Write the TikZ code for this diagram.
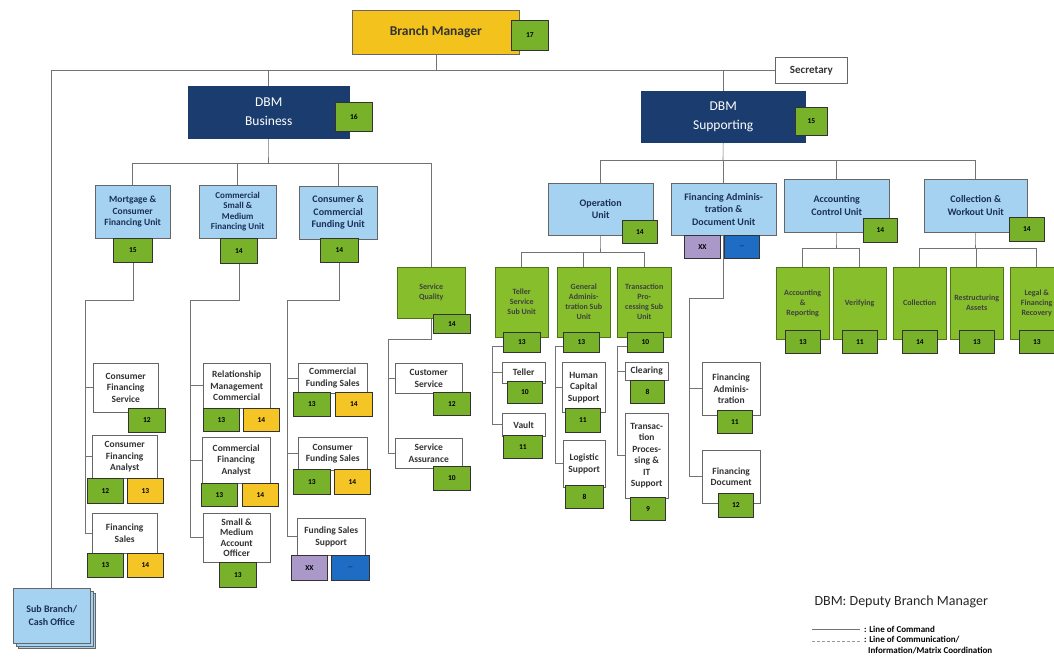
\documentclass[tikz,border=0pt]{standalone}
\usepackage{fontspec}
\setmainfont{Carlito}
\usepackage{tikz}
\usetikzlibrary{shadows,backgrounds}

\definecolor{bmgold}{HTML}{F3C21C}
\definecolor{dbmnavy}{HTML}{1B3C6E}
\definecolor{unitblue}{HTML}{A6D2F1}
\definecolor{navytxt}{HTML}{1A2F5A}
\definecolor{subgreen}{HTML}{86BE2C}
\definecolor{gradegreen}{HTML}{78B12A}
\definecolor{gradegold}{HTML}{F5C526}
\definecolor{xxpurple}{HTML}{A998C8}
\definecolor{dashblue}{HTML}{1F6CC4}

\begin{document}
\begin{tikzpicture}[x=1pt, y=-1pt,
    wh/.style 2 args={minimum width=#1pt, minimum height=#2pt},
    boxe/.style={draw=black!60, anchor=north west, align=center, inner sep=1pt,
      font=\fontsize{9.5}{11.5}\selectfont\bfseries},
    unitbox/.style={boxe, fill=unitblue, text=navytxt},
    jobbox/.style={boxe, fill=white, text=black!80},
    subbox/.style={boxe, fill=subgreen, draw=subgreen!60!black, text=black!75,
      font=\fontsize{8}{10}\selectfont\bfseries},
    gradebox/.style={draw=black!80, line width=0.9pt, anchor=north west, fill=gradegreen,
      inner sep=0pt, font=\fontsize{7.5}{8}\selectfont\bfseries},
    goldbox/.style={gradebox, fill=gradegold},
    xxbox/.style={gradebox, fill=xxpurple},
    dashbox/.style={gradebox, fill=dashblue, text=navytxt},
    cmd/.style={draw=black!55, line width=0.6pt}]
  \useasboundingbox (0,0) rectangle (1054,660);

  % Direction
  \node[boxe, fill=bmgold, line width=0.8pt, wh={167}{44}, text=black!80,
    font=\fontsize{13.5}{15}\selectfont\bfseries] (bm) at (352,10) {Branch Manager};
  \node[gradebox, wh={37}{30}] (bm-g) at (511,20) {17};
  \node[jobbox, wh={72}{26}, line width=0.8pt, font=\fontsize{11}{13}\selectfont\bfseries] (sec) at (775,57) {Secretary};
  \node[boxe, fill=dbmnavy, draw=dbmnavy, text=white, wh={161}{52},
    font=\fontsize{13.5}{19}\selectfont] (dbmb) at (188,86) {DBM\\Business};
  \node[gradebox, wh={37}{29}] (dbmb-g) at (335,102) {16};
  \node[boxe, fill=dbmnavy, draw=dbmnavy, text=white, wh={164}{51},
    font=\fontsize{13.5}{19}\selectfont] (dbms) at (641,91) {DBM\\Supporting};
  \node[gradebox, wh={32}{28}] (dbms-g) at (795,107) {15};
  \node[unitbox, wh={77}{55}, font=\fontsize{10}{12.5}\selectfont\bfseries,
    double copy shadow={shadow xshift=2.5pt, shadow yshift=-2.5pt}] (sb) at (13,588) {Sub Branch/\\Cash Office};

  % Unites Business
  \node[unitbox, wh={75}{53}] (mort) at (95,185) {Mortgage \&\\Consumer\\Financing Unit};
  \node[gradebox, wh={39}{24}] (mort-g) at (113,238) {15};
  \node[unitbox, wh={77}{53}, font=\fontsize{9}{10.5}\selectfont\bfseries] (csme) at (199,185) {Commercial\\Small \&\\Medium\\Financing Unit};
  \node[gradebox, wh={37}{25}] (csme-g) at (220,238) {14};
  \node[unitbox, wh={78}{53}, font=\fontsize{10}{12.5}\selectfont\bfseries] (ccf) at (299,186) {Consumer \&\\Commercial\\Funding Unit};
  \node[gradebox, wh={38}{24}] (ccf-g) at (320,238) {14};
  \node[subbox, wh={68}{51}] (sq) at (397,267) {Service\\Quality};
  \node[gradebox, wh={37}{19}] (sq-g) at (433,314) {14};

  % Postes Business
  \node[jobbox, wh={65}{49}] (cfs) at (93,363) {Consumer\\Financing\\Service};
  \node[gradebox, wh={37}{24}] (cfs-g) at (128,408) {12};
  \node[jobbox, wh={65}{43}] (cfa) at (92,435) {Consumer\\Financing\\Analyst};
  \node[gradebox, wh={36}{25}] (cfa-g) at (87,478) {12};
  \node[goldbox, wh={36}{25}] (cfa-h) at (127,478) {13};
  \node[jobbox, wh={65}{40}] (fs) at (92,513) {Financing\\Sales};
  \node[gradebox, wh={36}{24}] (fs-g) at (87,553) {13};
  \node[goldbox, wh={36}{24}] (fs-h) at (127,553) {14};

  \node[jobbox, wh={67}{45}] (rmc) at (203,363) {Relationship\\Management\\Commercial};
  \node[gradebox, wh={36}{23}] (rmc-g) at (203,408) {13};
  \node[goldbox, wh={36}{23}] (rmc-h) at (243,408) {14};
  \node[jobbox, wh={68}{46}] (cfan) at (202,437) {Commercial\\Financing\\Analyst};
  \node[gradebox, wh={36}{23}] (cfan-g) at (201,483) {13};
  \node[goldbox, wh={36}{23}] (cfan-h) at (242,483) {14};
  \node[jobbox, wh={67}{49}, font=\fontsize{9.5}{10.5}\selectfont\bfseries] (smao) at (203,513) {Small \&\\Medium\\Account\\Officer};
  \node[gradebox, wh={37}{25}] (smao-g) at (219,562) {13};

  \node[jobbox, wh={69}{30}] (cfus) at (298,363) {Commercial\\Funding Sales};
  \node[gradebox, wh={37}{24}] (cfus-g) at (293,392) {13};
  \node[goldbox, wh={37}{24}] (cfus-h) at (335,392) {14};
  \node[jobbox, wh={69}{33}] (cofs) at (298,437) {Consumer\\Funding Sales};
  \node[gradebox, wh={37}{25}] (cofs-g) at (293,469) {13};
  \node[goldbox, wh={36}{25}] (cofs-h) at (334,469) {14};
  \node[jobbox, wh={68}{37}] (fss) at (297,518) {Funding Sales\\Support};
  \node[xxbox, wh={36}{25}] (fss-g) at (291,555) {XX};
  \node[dashbox, wh={38}{25}] (fss-h) at (331,555) {-{}-};

  \node[jobbox, wh={67}{30}] (cs) at (395,363) {Customer\\Service};
  \node[gradebox, wh={37}{23}] (cs-g) at (433,392) {12};
  \node[jobbox, wh={67}{30}] (sa) at (395,438) {Service\\Assurance};
  \node[gradebox, wh={37}{24}] (sa-g) at (433,466) {10};

  % Unites Supporting
  \node[unitbox, wh={105}{52}, font=\fontsize{10}{12.5}\selectfont\bfseries] (ops) at (548,183) {Operation\\Unit};
  \node[gradebox, wh={35}{23}] (ops-g) at (622,220) {14};
  \node[unitbox, wh={105}{52}, font=\fontsize{10}{12.5}\selectfont\bfseries] (fad) at (671,183) {Financing Adminis-\\tration \&\\Document Unit};
  \node[xxbox, wh={36}{23}] (fad-g) at (684,235) {XX};
  \node[dashbox, wh={35}{23}] (fad-h) at (724,235) {-{}-};
  \node[unitbox, wh={105}{53}, font=\fontsize{10}{12.5}\selectfont\bfseries] (acu) at (784,179) {Accounting\\Control Unit};
  \node[gradebox, wh={34}{24}] (acu-g) at (863,218) {14};
  \node[unitbox, wh={103}{53}, font=\fontsize{10}{12.5}\selectfont\bfseries] (cwu) at (924,179) {Collection \&\\Workout Unit};
  \node[gradebox, wh={35}{24}] (cwu-g) at (1009,217) {14};

  % Sous-unites Operation
  \node[subbox, wh={53}{70}] (tss) at (495,267) {Teller\\Service\\Sub Unit};
  \node[gradebox, wh={37}{20}] (tss-g) at (503,332) {13};
  \node[subbox, wh={53}{70}] (gas) at (557,267) {General\\Adminis-\\tration Sub\\Unit};
  \node[gradebox, wh={36}{20}] (gas-g) at (563,332) {13};
  \node[subbox, wh={54}{70}] (tps) at (617,267) {Transaction\\Pro-\\cessing Sub\\Unit};
  \node[gradebox, wh={36}{20}] (tps-g) at (627,332) {10};

  \node[jobbox, wh={43}{21}] (tel) at (502,362) {Teller};
  \node[gradebox, wh={35}{22}] (tel-g) at (507,381) {10};
  \node[jobbox, wh={43}{23}] (vlt) at (502,413) {Vault};
  \node[gradebox, wh={39}{23}] (vlt-g) at (503,435) {11};
  \node[jobbox, wh={43}{50}] (hcs) at (562,362) {Human\\Capital\\Support};
  \node[gradebox, wh={35}{24}] (hcs-g) at (565,408) {11};
  \node[jobbox, wh={42}{47}] (lgs) at (563,440) {Logistic\\Support};
  \node[gradebox, wh={38}{23}] (lgs-g) at (565,485) {8};
  \node[jobbox, wh={43}{18}] (clr) at (625,362) {Clearing};
  \node[gradebox, wh={34}{23}] (clr-g) at (630,380) {8};
  \node[jobbox, wh={43}{85}] (tpit) at (625,413) {Transac-\\tion\\Proces-\\sing \&\\IT\\Support};
  \node[gradebox, wh={35}{23}] (tpit-g) at (630,497) {9};

  \node[jobbox, wh={58}{53}] (fa) at (702,362) {Financing\\Adminis-\\tration};
  \node[gradebox, wh={35}{23}] (fa-g) at (717,410) {11};
  \node[jobbox, wh={58}{53}] (fd) at (702,450) {Financing\\Document};
  \node[gradebox, wh={35}{24}] (fd-g) at (718,493) {12};

  % Sous-unites Accounting / Collection
  \foreach \n/\x/\t/\g in {ar/776/{Accounting\\\&\\Reporting}/13, ver/833/Verifying/11,
      col/893/Collection/14, rst/950/{Restructuring\\Assets}/13,
      lfr/1010/{Legal \&\\Financing\\Recovery}/13} {
    \node[subbox, wh={53}{72}] (\n) at (\x,267) {\t};
    \node[gradebox, wh={35}{23}] (\n-g) at (\x+9,330) {\g};
  }

  % Liaisons
  \begin{scope}[on background layer]
    \coordinate (hub) at (bm.south |- sec.west);
    \draw[cmd] (bm.south) -- (hub) -- (sec.west);
    \draw[cmd] (hub) -| (sb.north);
    \draw[cmd] (hub -| dbmb.north) -- (dbmb.north);
    \draw[cmd] (hub -| dbms.north) -- (dbms.north);

    \coordinate (busb) at (268.5,163);
    \draw[cmd] (dbmb.south) -- (busb);
    \draw[cmd] (busb -| mort.north) -- (busb -| sq.north);
    \foreach \u in {mort,csme,ccf,sq}
      \draw[cmd] (busb -| \u.north) -- (\u.north);

    \coordinate (c1) at (85,300);
    \draw[cmd] (mort-g.south) |- (c1) -- (c1 |- fs.west) -- (fs.west);
    \foreach \j in {cfs,cfa}
      \draw[cmd] (c1 |- \j.west) -- (\j.west);
    \coordinate (c2) at (190,300);
    \draw[cmd] (csme-g.south) |- (c2) -- (c2 |- smao.west) -- (smao.west);
    \foreach \j in {rmc,cfan}
      \draw[cmd] (c2 |- \j.west) -- (\j.west);
    \coordinate (c3) at (287,300);
    \draw[cmd] (ccf-g.south) |- (c3) -- (c3 |- fss.west) -- (fss.west);
    \foreach \j in {cfus,cofs}
      \draw[cmd] (c3 |- \j.west) -- (\j.west);
    \coordinate (c4) at (388,339);
    \draw[cmd] (sq.south) |- (c4) -- (c4 |- sa.west) -- (sa.west);
    \draw[cmd] (c4 |- cs.west) -- (cs.west);

    \coordinate (buss) at (723,160);
    \draw[cmd] (dbms.south) -- (buss);
    \draw[cmd] (buss -| ops.north) -- (buss -| cwu.north);
    \foreach \u in {ops,fad,acu,cwu}
      \draw[cmd] (buss -| \u.north) -- (\u.north);

    \coordinate (bop) at (600.5,252);
    \draw[cmd] (ops.south) -- (bop);
    \draw[cmd] (bop -| tss.north) -- (bop -| tps.north);
    \foreach \u in {tss,gas,tps}
      \draw[cmd] (bop -| \u.north) -- (\u.north);

    \coordinate (c5) at (492,346);
    \draw[cmd] (tss-g.west |- c5) -- (c5) -- (c5 |- vlt.west) -- (vlt.west);
    \draw[cmd] (c5 |- tel.west) -- (tel.west);
    \coordinate (c6) at (555,346);
    \draw[cmd] (gas-g.west |- c6) -- (c6) -- (c6 |- lgs.west) -- (lgs.west);
    \draw[cmd] (c6 |- hcs.west) -- (hcs.west);
    \coordinate (c7) at (617,346);
    \draw[cmd] (tps-g.west |- c7) -- (c7) -- (c7 |- tpit.west) -- (tpit.west);
    \draw[cmd] (c7 |- clr.west) -- (clr.west);

    \coordinate (c8) at (689,298);
    \draw[cmd] (fad.south) |- (c8) -- (c8 |- fd.west) -- (fd.west);
    \draw[cmd] (c8 |- fa.west) -- (fa.west);

    \coordinate (bac) at (836.5,248);
    \draw[cmd] (acu.south) -- (bac);
    \draw[cmd] (bac -| ar.north) -- (bac -| ver.north);
    \foreach \u in {ar,ver}
      \draw[cmd] (bac -| \u.north) -- (\u.north);
    \coordinate (bcw) at (975.5,248);
    \draw[cmd] (cwu.south) -- (bcw);
    \draw[cmd] (bcw -| col.north) -- (bcw -| lfr.north);
    \foreach \u in {col,rst,lfr}
      \draw[cmd] (bcw -| \u.north) -- (\u.north);
  \end{scope}

  % Legende
  \node[anchor=west, text=black!85, font=\fontsize{14}{16}\selectfont] (leg) at (811,602) {DBM: Deputy Branch Manager};
  \node[anchor=west, inner sep=1pt, font=\fontsize{9}{10.5}\selectfont\bfseries] (lcmd) at (863,629) {: Line of Command};
  \node[anchor=north west, align=left, inner sep=1pt, font=\fontsize{9}{10.5}\selectfont\bfseries] (lcom) at (863,635) {: Line of Communication/\\\phantom{:\,}Information/Matrix Coordination};
  \coordinate (ls1) at (812,629);
  \coordinate (ls2) at (812,641);
  \draw[cmd] (ls1) -- ([xshift=-3pt]ls1 -| lcmd.west);
  \draw[cmd, draw=black!40, dash pattern=on 3pt off 2pt] (ls2) -- ([xshift=-3pt]ls2 -| lcmd.west);
\end{tikzpicture}
\end{document}
